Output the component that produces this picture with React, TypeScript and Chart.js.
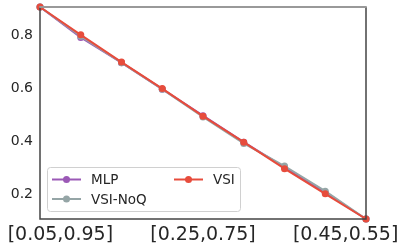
import React, { useEffect, useRef } from "react";
import { Chart, registerables } from "chart.js";

Chart.register(...registerables);

const categories = [
  "[0.05,0.95]", "[0.1,0.9]", "[0.15,0.85]", "[0.2,0.8]", "[0.25,0.75]",
  "[0.3,0.7]", "[0.35,0.65]", "[0.4,0.6]", "[0.45,0.55]",
];
const mlpValues = [0.9, 0.785, 0.69, 0.59, 0.49, 0.39, 0.295, 0.2, 0.1];
const vsiNoQValues = [0.9, 0.79, 0.69, 0.59, 0.485, 0.385, 0.3, 0.205, 0.1];
const vsiValues = [0.9, 0.795, 0.692, 0.592, 0.488, 0.39, 0.29, 0.195, 0.1];
const xTickPositions = [0.5, 4, 7.5];
const xTickLabels = ["[0.05,0.95]", "[0.25,0.75]", "[0.45,0.55]"];
const yTicks = [0.2, 0.4, 0.6, 0.8];

const COLORS = { mlp: "#9b59b6", noq: "#95a5a6", vsi: "#e74c3c" };
const FONT = "'DejaVu Sans', sans-serif";

const toPoints = (vals: number[]) => vals.map((v, i) => ({ x: i, y: v }));

const framePlugin = {
  id: "frame",
  afterDraw(chart: any) {
    const { ctx, chartArea: a } = chart;
    ctx.save();
    ctx.lineCap = "butt";
    ctx.strokeStyle = "#444";
    ctx.lineWidth = 1.5;
    ctx.beginPath();
    ctx.moveTo(a.left, a.top);
    ctx.lineTo(a.left, a.bottom);
    ctx.lineTo(a.right, a.bottom);
    ctx.lineTo(a.right, a.top);
    ctx.stroke();
    ctx.strokeStyle = "#999";
    ctx.lineWidth = 2;
    ctx.beginPath();
    ctx.moveTo(a.left - 0.75, a.top);
    ctx.lineTo(a.right + 0.75, a.top);
    ctx.stroke();

    // legend
    const lx = 47.5, ly = 167.5, lw = 193, lh = 44;
    ctx.fillStyle = "rgba(255,255,255,0.85)";
    ctx.strokeStyle = "#d0d0d0";
    ctx.lineWidth = 1;
    ctx.beginPath();
    (ctx as any).roundRect(lx, ly, lw, lh, 3);
    ctx.fill();
    ctx.stroke();
    const entries = [
      { label: "MLP", color: COLORS.mlp, x: 52, y: 179.5 },
      { label: "VSI-NoQ", color: COLORS.noq, x: 52, y: 199 },
      { label: "VSI", color: COLORS.vsi, x: 174, y: 179.5 },
    ];
    ctx.font = `13.5px ${FONT}`;
    ctx.textBaseline = "middle";
    ctx.textAlign = "left";
    for (const e of entries) {
      ctx.strokeStyle = e.color;
      ctx.lineWidth = 2;
      ctx.beginPath();
      ctx.moveTo(e.x, e.y);
      ctx.lineTo(e.x + 29, e.y);
      ctx.stroke();
      ctx.fillStyle = e.color;
      ctx.beginPath();
      ctx.arc(e.x + 14.5, e.y, 3.5, 0, Math.PI * 2);
      ctx.fill();
      ctx.fillStyle = "#262626";
      ctx.fillText(e.label, e.x + 39, e.y + 1);
    }
    ctx.restore();
  },
};

export default function App() {
  const ref = useRef<HTMLCanvasElement>(null);
  useEffect(() => {
    document.body.style.margin = "0";
    const ds = (label: string, vals: number[], color: string, order: number) => ({
      label,
      data: toPoints(vals),
      borderColor: color,
      backgroundColor: color,
      borderWidth: 2,
      pointRadius: 3.5,
      pointBorderWidth: 0,
      pointBackgroundColor: color,
      order,
      clip: false as any,
    });
    const chart = new Chart(ref.current!, {
      type: "line",
      data: {
        labels: categories,
        datasets: [
          ds("MLP", mlpValues, COLORS.mlp, 2),
          ds("VSI-NoQ", vsiNoQValues, COLORS.noq, 1),
          ds("VSI", vsiValues, COLORS.vsi, 0),
        ],
      },
      options: {
        animation: false,
        responsive: false,
        layout: { padding: { top: 7, right: 41, left: 0, bottom: 0 } },
        plugins: { legend: { display: false }, tooltip: { enabled: false } },
        scales: {
          x: {
            type: "linear",
            min: 0,
            max: categories.length - 1,
            grid: { display: false, drawTicks: false },
            border: { display: false },
            afterBuildTicks: (axis: any) => {
              axis.ticks = xTickPositions.map((v) => ({ value: v }));
            },
            afterFit: (axis: any) => {
              axis.height = 33;
              axis.paddingLeft = 0;
              axis.paddingRight = 0;
            },
            ticks: {
              autoSkip: false,
              maxRotation: 0,
              padding: 5,
              color: "#262626",
              font: { family: FONT, size: 19 },
              callback: (v: any) => {
                const i = xTickPositions.indexOf(Number(v));
                return i >= 0 ? xTickLabels[i] : "";
              },
            },
          },
          y: {
            min: 0.1,
            max: 0.9,
            grid: { display: false, drawTicks: false },
            border: { display: false },
            afterBuildTicks: (axis: any) => {
              axis.ticks = yTicks.map((v) => ({ value: v }));
            },
            afterFit: (axis: any) => {
              axis.width = 40;
              axis.paddingTop = 0;
              axis.paddingBottom = 0;
            },
            ticks: {
              padding: 7,
              labelOffset: 1.5,
              color: "#262626",
              font: { family: FONT, size: 14 },
              callback: (v: any) => Number(v).toFixed(1),
            },
          },
        },
      },
      plugins: [framePlugin],
    });
    return () => chart.destroy();
  }, []);
  return (
    <div style={{ position: "absolute", left: 0, top: 0, width: 407, height: 252 }}>
      <canvas ref={ref} width={407} height={252} style={{ width: 407, height: 252 }} />
    </div>
  );
}
